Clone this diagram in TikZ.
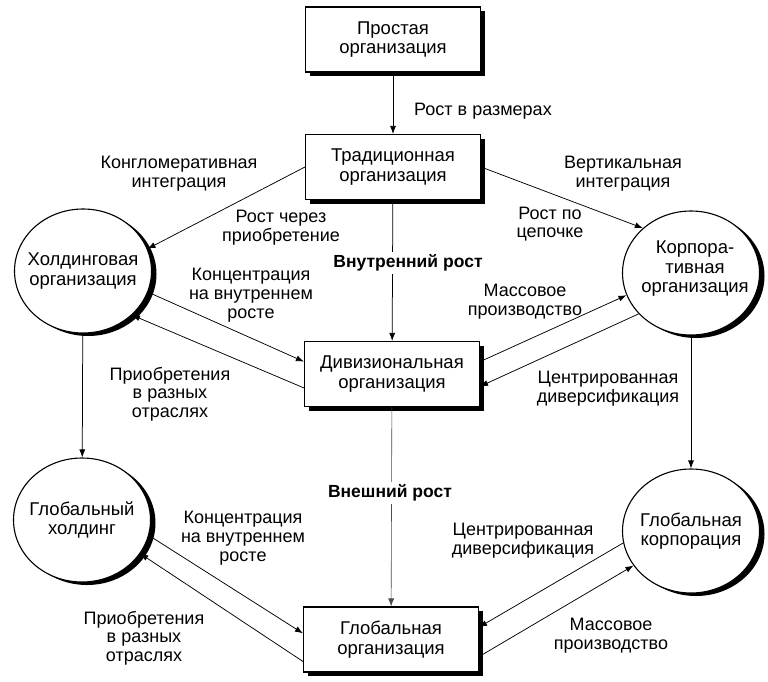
\documentclass[tikz,border=0pt]{standalone}
\usepackage{fontspec}
\setmainfont{Liberation Sans}
\usetikzlibrary{shapes.geometric,arrows.meta,shadows}
\begin{document}
\begin{tikzpicture}[x=1pt,y=-1pt,
  box/.style={draw,line width=1.1pt,fill=white,minimum width=175pt,minimum height=65pt,
    align=center,inner sep=2pt,font=\fontsize{18.5}{19.5}\selectfont,
    drop shadow={shadow xshift=4pt,shadow yshift=-4pt,fill=black,opacity=1}},
  orgcirc/.style={ellipse,draw,line width=1.1pt,fill=white,minimum width=137pt,minimum height=124pt,
    inner sep=0pt,
    drop shadow={shadow xshift=5pt,shadow yshift=-3pt,fill=black,opacity=1}},
  ctext/.style={align=center,inner sep=0pt,font=\fontsize{18.5}{19.5}\selectfont},
  lbl/.style={align=center,inner sep=1pt,font=\fontsize{18}{18.7}\selectfont},
  blbl/.style={fill=white,inner sep=3pt,font=\bfseries\fontsize{17.5}{18.5}\selectfont},
  arr/.style={-{Latex[length=8pt,width=6pt]},line width=0.75pt},
  thinarr/.style={-{Latex[length=8pt,width=6pt]},line width=0.6pt,black!70},
]
\useasboundingbox (0,0) rectangle (768,681);

% nodes
\node[box] (simple) at (393,39.5) {Простая\\организация};
\node[box] (trad) at (393,167) {Традиционная\\организация};
\node[box] (div) at (392,374) {Дивизиональная\\организация};
\node[box] (gorg) at (391,639.5) {Глобальная\\организация};
\node[orgcirc,label={[ctext]center:Холдинговая\\организация}] (hold) at (83,271) {};
\node[orgcirc,label={[ctext,xshift=4pt,yshift=4pt]center:Корпора-\\тивная\\организация}] (corp) at (691,273) {};
\node[orgcirc,label={[ctext]center:Глобальный\\холдинг}] (ghold) at (82,520) {};
\node[orgcirc,label={[ctext]center:Глобальная\\корпорация}] (gcorp) at (691,531) {};

% connectors
\draw[arr] (simple) -- (trad);
\draw[arr] (trad.west) -- (hold.19);
\draw[arr] (trad.east) -- (corp.137);
\draw[arr] (trad) -- (div);
\draw[arr] (hold.-18) -- (div.172);
\draw[arr] (div.189) -- (hold.-42);
\draw[arr] (div.8) -- (corp.199);
\draw[arr] (corp.218) -- (div.-8);
\draw[arr] (hold) -- (ghold);
\draw[arr] (corp) -- (gcorp);
\draw[thinarr] (div) -- (gorg);
\draw[arr] (ghold.-13) -- (gorg.176);
\draw[arr] (gorg.194) -- (ghold.-30);
\draw[arr] (gorg.-11) -- (gcorp.211);
\draw[arr] (gcorp.190) -- (gorg.8);

% labels
\node[lbl] (l1) at (483,111) {Рост в размерах};
\node[lbl] (l2) at (179,174) {Конгломеративная\\интеграция};
\node[lbl] (l3) at (281,228) {Рост через\\приобретение};
\node[lbl] (l4) at (251,295) {Концентрация\\на внутреннем\\росте};
\node[lbl] (l5) at (170,394) {Приобретения\\в разных\\отраслях};
\node[lbl] (l6) at (623,174) {Вертикальная\\интеграция};
\node[lbl] (l7) at (550,224) {Рост по\\цепочке};
\node[blbl] (l8) at (408,263) {Внутренний рост};
\node[lbl] (l9) at (525,302) {Массовое\\производство};
\node[lbl] (l10) at (608,389) {Центрированная\\диверсификация};
\node[blbl] (l11) at (390,493) {Внешний рост};
\node[lbl] (l12) at (243,538) {Концентрация\\на внутреннем\\росте};
\node[lbl] (l13) at (144,638) {Приобретения\\в разных\\отраслях};
\node[lbl] (l14) at (523,541) {Центрированная\\диверсификация};
\node[lbl] (l15) at (611,636) {Массовое\\производство};
\end{tikzpicture}
\end{document}
